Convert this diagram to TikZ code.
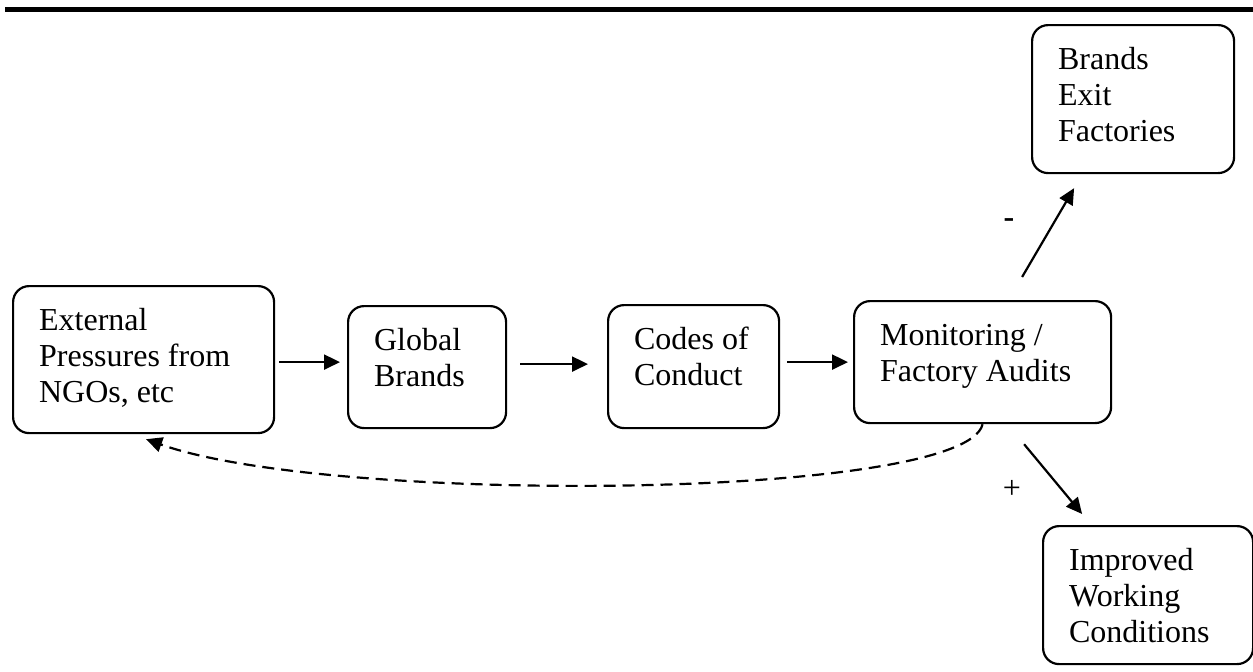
\documentclass[tikz,border=0pt]{standalone}
\usepackage{fontspec}
\setmainfont{Liberation Serif}
\usetikzlibrary{arrows.meta}
\newcommand{\boxtxt}[3]{\parbox[t][#2][t]{#1}{\raggedright\strut #3}}

\begin{document}
\begin{tikzpicture}[x=1pt,y=-1pt]
\tikzset{stage/.style = {draw,line width=2.2pt,rounded corners=16pt,anchor=north west,inner xsep=26pt,inner ysep=19pt,font=\fontsize{32}{36}\selectfont}}
\tikzset{flow/.style = {line width=2.2pt,-{Triangle[length=16pt,width=15pt]}}}
\tikzset{sign/.style = {font=\fontsize{32}{36}\selectfont,inner sep=0pt}}
\useasboundingbox (0,0) rectangle (1253,672);
% rule at the top
\coordinate (ruleL) at (5,9.5);
\coordinate (ruleR) at (1253,9.5);
\draw[line width=4.5pt] (ruleL) -- (ruleR);
% boxes
\node[stage] (ext) at (12,285) {\boxtxt{209pt}{109pt}{External\\Pressures from\\NGOs, etc}};
\node[stage] (glob) at (347,305) {\boxtxt{106pt}{84pt}{Global\\Brands}};
\node[stage] (codes) at (607,304) {\boxtxt{119pt}{85pt}{Codes of\\Conduct}};
\node[stage] (mon) at (853,300) {\boxtxt{205pt}{84pt}{Monitoring /\\Factory Audits}};
\node[stage] (exit) at (1031,24) {\boxtxt{150pt}{110pt}{Brands\\Exit\\Factories}};
\node[stage] (impr) at (1042,525) {\boxtxt{158pt}{100pt}{Improved\\Working\\Conditions}};
% arrows
\draw[flow] ([xshift=4pt,yshift=-2.5pt]ext.east) -- ([xshift=-7pt,yshift=5pt]glob.west);
\draw[flow] ([xshift=13pt,yshift=3pt]glob.east) -- ([xshift=-19pt,yshift=2.5pt]codes.west);
\draw[flow] ([xshift=7pt,yshift=4.5pt]codes.east) -- ([xshift=-5pt]mon.west);
\draw[flow] ([xshift=39.5pt,yshift=23pt]mon.north) -- ([xshift=-59pt,yshift=-14pt]exit.south);
\draw[flow] ([xshift=41.5pt,yshift=-20pt]mon.south) -- ([xshift=-66pt,yshift=11pt]impr.north);
\draw[flow,dashed,dash pattern=on 12pt off 7pt] (mon.south) .. controls (965,500) and (330,505) .. ([xshift=2.5pt,yshift=-5pt]ext.south);
% signs
\node[sign] (minus) at (1009,223) {\textbf{-}};
\node[sign] (plus) at (1012,489) {+};
\end{tikzpicture}
\end{document}
